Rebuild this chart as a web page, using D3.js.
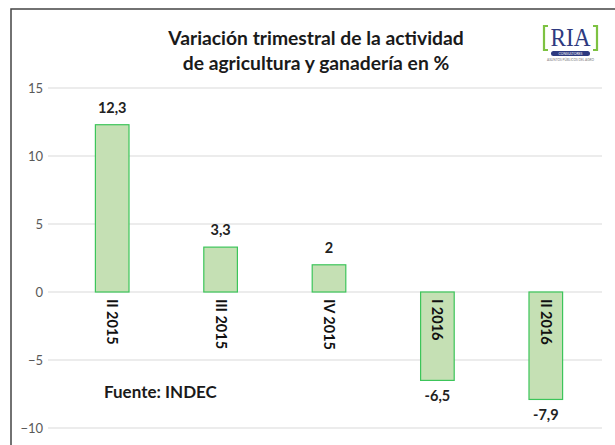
<!DOCTYPE html>
<html><head><meta charset="utf-8">
<script src="https://cdn.jsdelivr.net/npm/d3@7"></script>
<style>body{margin:0;background:#fff}</style>
</head><body>
<script>
const categories = ["II 2015", "III 2015", "IV 2015", "I 2016", "II 2016"];
const values = [12.3, 3.3, 2, -6.5, -7.9];
const valueLabels = ["12,3", "3,3", "2", "-6,5", "-7,9"];
const yTicks = [-10, -5, 0, 5, 10, 15];
const titleLines = ["Variación trimestral de la actividad", "de agricultura y ganadería en %"];
const sourceText = "Fuente: INDEC";

const W = 615, H = 445;
const svg = d3.select("body").append("svg").attr("width", W).attr("height", H);
const font = "Lato, 'Open Sans', 'Noto Sans', sans-serif";

// frame
svg.append("path").attr("d", `M11,${H} L11,9 L${W},9`).attr("fill", "none").attr("stroke", "#444").attr("stroke-width", 1.5);

const x = d3.scaleBand().domain(categories).range([58, 600]).paddingInner(0.69).paddingOuter(0.345);
const y = d3.scaleLinear().domain([-10, 15]).range([428, 88]);

// gridlines
svg.append("g").selectAll("line").data(yTicks).join("line")
  .attr("x1", 48).attr("x2", 602)
  .attr("y1", d => y(d)).attr("y2", d => y(d))
  .attr("stroke", "#d9d9d9").attr("stroke-width", 1);

// y axis labels
const yAxis = d3.axisLeft(y).tickValues(yTicks).tickSize(0).tickPadding(0).tickFormat(d3.format("d"));
const ya = svg.append("g").attr("transform", "translate(43,0)").call(yAxis);
ya.select(".domain").remove();
ya.selectAll("text").attr("font-family", font).attr("font-size", 13).attr("fill", "#595959");

// bars
svg.append("g").selectAll("rect").data(values).join("rect")
  .attr("x", (d, i) => x(categories[i]))
  .attr("width", x.bandwidth())
  .attr("y", d => y(Math.max(0, d)))
  .attr("height", d => Math.abs(y(d) - y(0)))
  .attr("fill", "#c5e0b4").attr("stroke", "#3cc55a").attr("stroke-width", 1.2);

// value labels
svg.append("g").selectAll("text").data(values).join("text")
  .attr("x", (d, i) => x(categories[i]) + x.bandwidth() / 2)
  .attr("y", d => d >= 0 ? y(d) - 12 : y(d) + 21)
  .attr("text-anchor", "middle")
  .attr("font-family", font).attr("font-size", 14.5).attr("font-weight", "bold").attr("fill", "#222")
  .text((d, i) => valueLabels[i]);

// category labels (rotated)
svg.append("g").selectAll("text").data(categories).join("text")
  .attr("transform", d => `translate(${x(d) + x.bandwidth() / 2 - 5},${y(0) + 7}) rotate(90)`)
  .attr("font-family", font).attr("font-size", 14.5).attr("font-weight", "bold").attr("fill", "#111")
  .text(d => d);

// title
svg.append("g").selectAll("text").data(titleLines).join("text")
  .attr("x", 316).attr("y", (d, i) => 45 + i * 25)
  .attr("text-anchor", "middle")
  .attr("font-family", font).attr("font-size", 19.3).attr("font-weight", "bold").attr("fill", "#1a1a1a")
  .text(d => d);

// source
svg.append("text").attr("x", 104).attr("y", 398)
  .attr("font-family", font).attr("font-size", 17).attr("font-weight", "bold").attr("fill", "#1a1a1a")
  .text(sourceText);

// logo
const logo = svg.append("g");
logo.append("path").attr("d", "M548,26 L544,26 L544,50 L548,50").attr("fill", "none").attr("stroke", "#7dc242").attr("stroke-width", 2.2);
logo.append("path").attr("d", "M593,26 L597,26 L597,50 L593,50").attr("fill", "none").attr("stroke", "#7dc242").attr("stroke-width", 2.2);
logo.append("text").attr("x", 570.5).attr("y", 46).attr("text-anchor", "middle")
  .attr("font-family", "'Liberation Serif', 'DejaVu Serif', serif").attr("font-size", 25).attr("fill", "#2e3a80")
  .attr("textLength", 40).attr("lengthAdjust", "spacingAndGlyphs").text("RIA");
logo.append("rect").attr("x", 551).attr("y", 51).attr("width", 39).attr("height", 5).attr("rx", 2.5).attr("fill", "#2e3a80");
logo.append("text").attr("x", 570.5).attr("y", 55.2).attr("text-anchor", "middle")
  .attr("font-family", font).attr("font-size", 3.4).attr("fill", "#fff").text("CONSULTORES");
logo.append("text").attr("x", 570.5).attr("y", 61).attr("text-anchor", "middle")
  .attr("font-family", font).attr("font-size", 3.2).attr("fill", "#777").text("ASUNTOS PÚBLICOS DEL AGRO");
</script>
</body></html>
